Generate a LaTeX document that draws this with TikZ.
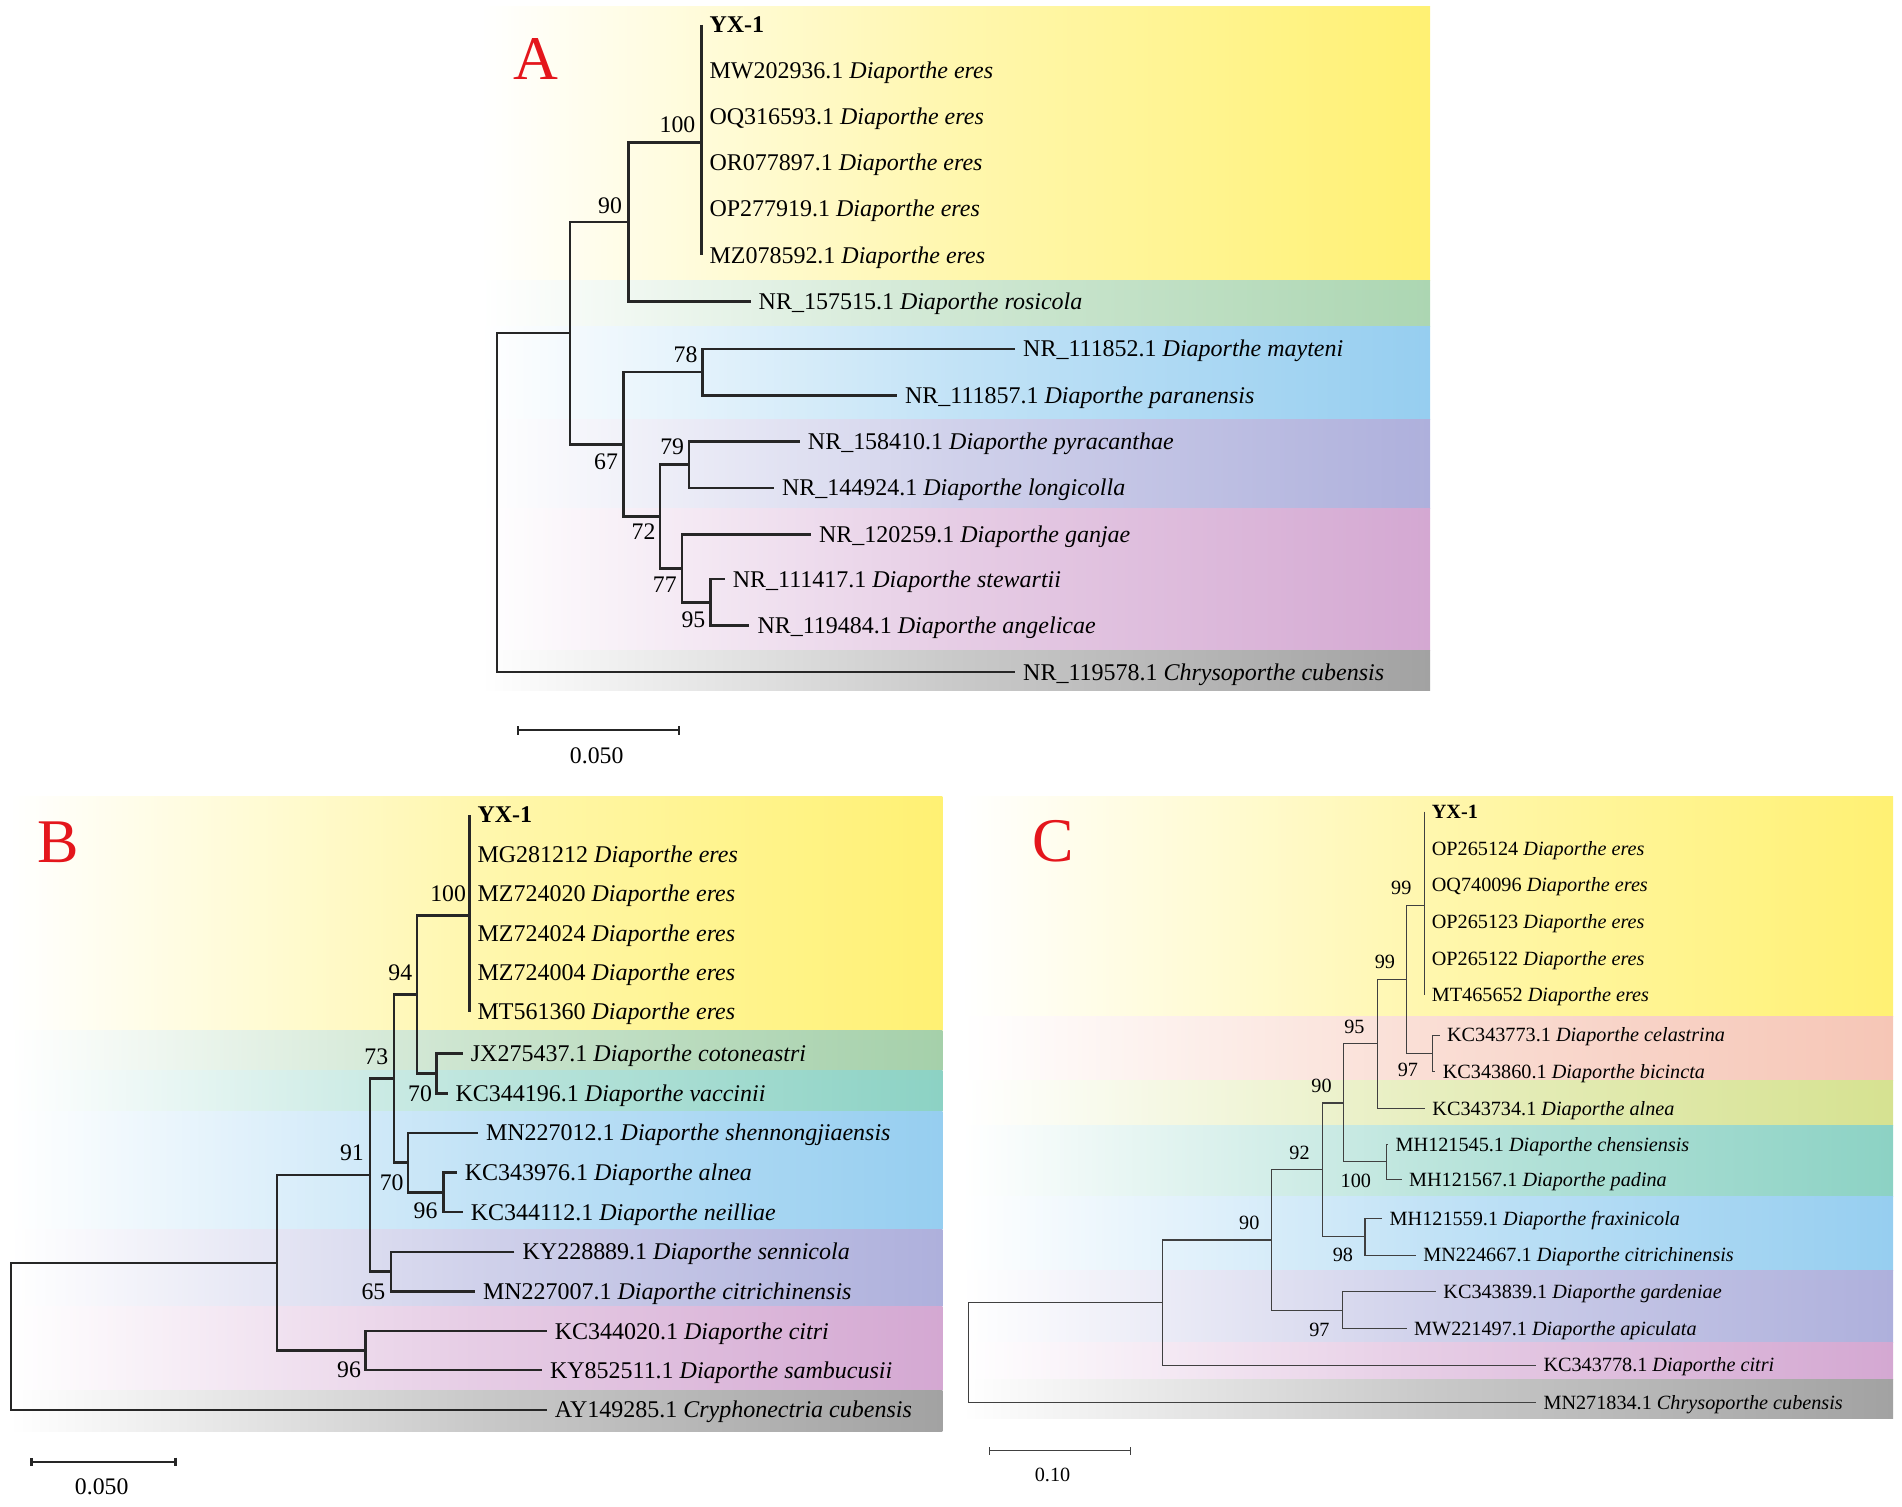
\documentclass[tikz,border=0pt]{standalone}
\usepackage{fontspec}
\setmainfont{Liberation Serif}
\usetikzlibrary{arrows.meta}
\definecolor{yel}{RGB}{255,241,115}
\definecolor{grnA}{RGB}{172,214,178}
\definecolor{bluA}{RGB}{150,206,240}
\definecolor{purA}{RGB}{174,176,220}
\definecolor{pnkA}{RGB}{212,168,210}
\definecolor{gryA}{RGB}{162,162,162}
\definecolor{grnB}{RGB}{165,208,170}
\definecolor{tealB}{RGB}{140,210,196}
\definecolor{peachC}{RGB}{246,198,182}
\definecolor{ygrC}{RGB}{214,226,145}
\definecolor{pred}{RGB}{228,22,28}
\tikzset{
  band/.style={left color=white, right color=#1, middle color=#1!58!white},
  br/.style={line width=2.1pt, draw=black!85},
  brc/.style={line width=0.9pt, draw=black!75},
  tipA/.style={anchor=west, inner xsep=6.5pt, inner ysep=0pt, text height=13pt, text depth=0pt, font=\fontsize{19.7}{20}\selectfont},
  tipC/.style={anchor=west, inner xsep=6pt, inner ysep=0pt, text height=11pt, text depth=0pt, font=\fontsize{16.6}{18}\selectfont},
  bsA/.style={inner sep=0pt, font=\fontsize{19.5}{20}\selectfont},
  bsC/.style={inner sep=0pt, font=\fontsize{16.6}{18}\selectfont},
  plet/.style={text=pred, inner sep=0pt, font=\fontsize{51}{52}\selectfont},
  sbar/.style={line width=1.9pt, draw=black!85, {Bar[width=7pt]}-{Bar[width=7pt]}},
  sbarc/.style={line width=1pt, draw=black!75, {Bar[width=6pt]}-{Bar[width=6pt]}},
}
\newcommand{\taxlab}[2]{#1 \textit{#2}}
\begin{document}
\begin{tikzpicture}[x=1pt,y=-1pt]
\useasboundingbox (0,0) rectangle (1562,1237);
% ---------------- Panel A backgrounds
\shade[band=yel]  (395,5) rectangle (1174.5,230);
\shade[band=grnA] (395,230) rectangle (1174.5,268);
\shade[band=bluA] (395,268) rectangle (1174.5,344.4);
\shade[band=purA] (395,344.4) rectangle (1174.5,417.5);
\shade[band=pnkA] (395,417.5) rectangle (1174.5,534);
\shade[band=gryA] (395,534) rectangle (1174.5,567.4);
% ---------------- Panel B backgrounds
\shade[band=yel]   (8,654.3) rectangle (774,846.6);
\shade[band=grnB]  (8,846.6) rectangle (774,878.9);
\shade[band=tealB] (8,878.9) rectangle (774,912.4);
\shade[band=bluA]  (8,912.4) rectangle (774,1009.6);
\shade[band=purA]  (8,1009.6) rectangle (774,1073.2);
\shade[band=pnkA]  (8,1073.2) rectangle (774,1142.2);
\shade[band=gryA]  (8,1142.2) rectangle (774,1175.9);
% ---------------- Panel C backgrounds
\shade[band=yel]    (790,654.3) rectangle (1554.6,834.6);
\shade[band=peachC] (790,834.6) rectangle (1554.6,887.7);
\shade[band=ygrC]   (790,887.7) rectangle (1554.6,924.1);
\shade[band=tealB]  (790,924.1) rectangle (1554.6,982.2);
\shade[band=bluA]   (790,982.2) rectangle (1554.6,1043.6);
\shade[band=purA]   (790,1043.6) rectangle (1554.6,1102.8);
\shade[band=pnkA]   (790,1102.8) rectangle (1554.6,1132.9);
\shade[band=gryA]   (790,1132.9) rectangle (1554.6,1165);

% ================= Panel A tree
\node[plet] (letA) at (440.4,48.7) {A};
\node[tipA] (ayx) at (576,20.5) {\textbf{YX-1}};
\node[tipA] (amw) at (576,58.2) {\taxlab{MW202936.1}{Diaporthe eres}};
\node[tipA] (aoq) at (576,96) {\taxlab{OQ316593.1}{Diaporthe eres}};
\node[tipA] (aor) at (576,133.8) {\taxlab{OR077897.1}{Diaporthe eres}};
\node[tipA] (aop) at (576,171.6) {\taxlab{OP277919.1}{Diaporthe eres}};
\node[tipA] (amz) at (576,209.5) {\taxlab{MZ078592.1}{Diaporthe eres}};
\node[tipA] (aros) at (616.4,247.6) {\taxlab{NR\_157515.1}{Diaporthe rosicola}};
\node[tipA] (amay) at (833.6,286.6) {\taxlab{NR\_111852.1}{Diaporthe mayteni}};
\node[tipA] (apar) at (736.6,324.6) {\taxlab{NR\_111857.1}{Diaporthe paranensis}};
\node[tipA] (apyr) at (656.8,362.4) {\taxlab{NR\_158410.1}{Diaporthe pyracanthae}};
\node[tipA] (alon) at (635.6,400.6) {\taxlab{NR\_144924.1}{Diaporthe longicolla}};
\node[tipA] (agan) at (666,439.1) {\taxlab{NR\_120259.1}{Diaporthe ganjae}};
\node[tipA] (aste) at (595.2,475.6) {\taxlab{NR\_111417.1}{Diaporthe stewartii}};
\node[tipA] (aang) at (615.4,513.6) {\taxlab{NR\_119484.1}{Diaporthe angelicae}};
\node[tipA] (achr) at (833.6,552) {\taxlab{NR\_119578.1}{Chrysoporthe cubensis}};
\coordinate (a100) at (576,117);
\coordinate (a90) at (516,182.3);
\coordinate (a78) at (577,305.6);
\coordinate (a79) at (566,381.5);
\coordinate (a95) at (583.6,494.6);
\coordinate (a77) at (560,466.8);
\coordinate (a72) at (542,424.2);
\coordinate (a67) at (512,364.9);
\coordinate (aN) at (468,273.6);
\coordinate (aroot) at (408,412.8);
\draw[br] (ayx.west) -- (amz.west);
\draw[br] (a100) -| (a90) |- (aros.west);
\draw[br] (amay.west) -| (a78) |- (apar.west);
\draw[br] (apyr.west) -| (a79) |- (alon.west);
\draw[br] (aste.west) -| (a95) |- (aang.west);
\draw[br] (agan.west) -| (a77) |- (a95);
\draw[br] (a79) -| (a72) |- (a77);
\draw[br] (a78) -| (a67) |- (a72);
\draw[br] (a90) -| (aN) |- (a67);
\draw[br] (aN) -| (aroot) |- (achr.west);
\node[bsA] (ba100) at (556.4,102.7) {100};
\node[bsA] (ba90) at (501,169) {90};
\node[bsA] (ba78) at (563,291.5) {78};
\node[bsA] (ba67) at (497.7,379) {67};
\node[bsA] (ba79) at (552,367) {79};
\node[bsA] (ba72) at (528.5,437) {72};
\node[bsA] (ba77) at (546,480.6) {77};
\node[bsA] (ba95) at (569.5,508.8) {95};
\coordinate (sa1) at (424.5,599.7);
\coordinate (sa2) at (558.8,599.7);
\draw[sbar] (sa1) -- (sa2);
\node[bsA] (sla) at (490,620.3) {0.050};

% ================= Panel B tree
\node[plet] (letB) at (47.5,692) {B};
\node[tipA] (byx) at (385.5,669.3) {\textbf{YX-1}};
\node[tipA] (bmg) at (385.5,701.4) {\taxlab{MG281212}{Diaporthe eres}};
\node[tipA] (bm1) at (385.5,733.7) {\taxlab{MZ724020}{Diaporthe eres}};
\node[tipA] (bm2) at (385.5,766.6) {\taxlab{MZ724024}{Diaporthe eres}};
\node[tipA] (bm3) at (385.5,799) {\taxlab{MZ724004}{Diaporthe eres}};
\node[tipA] (bmt) at (385.5,831) {\taxlab{MT561360}{Diaporthe eres}};
\node[tipA] (bcot) at (380,865.2) {\taxlab{JX275437.1}{Diaporthe cotoneastri}};
\node[tipA] (bvac) at (367.5,898) {\taxlab{KC344196.1}{Diaporthe vaccinii}};
\node[tipA] (bshe) at (392.5,930.4) {\taxlab{MN227012.1}{Diaporthe shennongjiaensis}};
\node[tipA] (baln) at (375,963) {\taxlab{KC343976.1}{Diaporthe alnea}};
\node[tipA] (bnei) at (380,995.4) {\taxlab{KC344112.1}{Diaporthe neilliae}};
\node[tipA] (bsen) at (422.5,1028) {\taxlab{KY228889.1}{Diaporthe sennicola}};
\node[tipA] (bcch) at (390,1060.8) {\taxlab{MN227007.1}{Diaporthe citrichinensis}};
\node[tipA] (bcit) at (449,1093.2) {\taxlab{KC344020.1}{Diaporthe citri}};
\node[tipA] (bsam) at (445,1125.2) {\taxlab{KY852511.1}{Diaporthe sambucusii}};
\node[tipA] (bcry) at (449,1158) {\taxlab{AY149285.1}{Cryphonectria cubensis}};
\coordinate (b100) at (385.5,752);
\coordinate (b70a) at (358.5,881.6);
\coordinate (b94) at (342.5,816.8);
\coordinate (b96a) at (364,979.2);
\coordinate (b70b) at (335,954.8);
\coordinate (b73) at (323.5,885.8);
\coordinate (b65) at (321,1044.4);
\coordinate (b91) at (304,965.1);
\coordinate (b96b) at (300,1109.2);
\coordinate (bN) at (227.5,1037.2);
\coordinate (broot) at (9,1097.6);
\draw[br] (byx.west) -- (bmt.west);
\draw[br] (bcot.west) -| (b70a) |- (bvac.west);
\draw[br] (b100) -| (b94) |- (b70a);
\draw[br] (baln.west) -| (b96a) |- (bnei.west);
\draw[br] (bshe.west) -| (b70b) |- (b96a);
\draw[br] (b94) -| (b73) |- (b70b);
\draw[br] (bsen.west) -| (b65) |- (bcch.west);
\draw[br] (b73) -| (b91) |- (b65);
\draw[br] (bcit.west) -| (b96b) |- (bsam.west);
\draw[br] (b91) -| (bN) |- (b96b);
\draw[br] (bN) -| (broot) |- (bcry.west);
\node[bsA] (bb100) at (368,734) {100};
\node[bsA] (bb94) at (328.7,799) {94};
\node[bsA] (bb73) at (309,868) {73};
\node[bsA] (bb70a) at (345,898) {70};
\node[bsA] (bb91) at (289,946.9) {91};
\node[bsA] (bb70b) at (321.7,971) {70};
\node[bsA] (bb96a) at (349.5,994) {96};
\node[bsA] (bb65) at (306.7,1060.8) {65};
\node[bsA] (bb96b) at (286.7,1125) {96};
\coordinate (sb1) at (25,1200.6);
\coordinate (sb2) at (145,1200.6);
\draw[sbar] (sb1) -- (sb2);
\node[bsA] (slb) at (83.5,1220.6) {0.050};

% ================= Panel C tree
\node[plet] (letC) at (865,691) {C};
\node[tipC] (cyx) at (1169.7,666.6) {\textbf{YX-1}};
\node[tipC] (co1) at (1169.7,696.7) {\taxlab{OP265124}{Diaporthe eres}};
\node[tipC] (co2) at (1169.7,726.9) {\taxlab{OQ740096}{Diaporthe eres}};
\node[tipC] (co3) at (1169.7,757) {\taxlab{OP265123}{Diaporthe eres}};
\node[tipC] (co4) at (1169.7,787.2) {\taxlab{OP265122}{Diaporthe eres}};
\node[tipC] (cmt) at (1169.7,817.3) {\taxlab{MT465652}{Diaporthe eres}};
\node[tipC] (ccel) at (1182.2,850.2) {\taxlab{KC343773.1}{Diaporthe celastrina}};
\node[tipC] (cbic) at (1178.7,880.3) {\taxlab{KC343860.1}{Diaporthe bicincta}};
\node[tipC] (caln) at (1170.2,910.4) {\taxlab{KC343734.1}{Diaporthe alnea}};
\node[tipC] (cche) at (1140,939.8) {\taxlab{MH121545.1}{Diaporthe chensiensis}};
\node[tipC] (cpad) at (1151,968.5) {\taxlab{MH121567.1}{Diaporthe padina}};
\node[tipC] (cfra) at (1135.1,1000.6) {\taxlab{MH121559.1}{Diaporthe fraxinicola}};
\node[tipC] (ccch) at (1162.7,1030.7) {\taxlab{MN224667.1}{Diaporthe citrichinensis}};
\node[tipC] (cgar) at (1179.2,1060.8) {\taxlab{KC343839.1}{Diaporthe gardeniae}};
\node[tipC] (capi) at (1155.2,1091) {\taxlab{MW221497.1}{Diaporthe apiculata}};
\node[tipC] (ccit) at (1261.4,1121.1) {\taxlab{KC343778.1}{Diaporthe citri}};
\node[tipC] (cchr) at (1261.4,1151.8) {\taxlab{MN271834.1}{Chrysoporthe cubensis}};
\coordinate (c99a) at (1169.7,743.3);
\coordinate (c97a) at (1176.2,865.2);
\coordinate (c99b) at (1155.1,804.2);
\coordinate (c95) at (1131.1,857.3);
\coordinate (c100) at (1138.6,954.2);
\coordinate (c90a) at (1103.5,905.8);
\coordinate (c98) at (1121,1015.7);
\coordinate (c92) at (1085.9,960.7);
\coordinate (c97b) at (1102.5,1075.9);
\coordinate (c90b) at (1044.4,1018.3);
\coordinate (cN) at (954.6,1069.7);
\coordinate (croot) at (795.2,1110.8);
\draw[brc] (cyx.west) -- (cmt.west);
\draw[brc] (ccel.west) -| (c97a) |- (cbic.west);
\draw[brc] (c99a) -| (c99b) |- (c97a);
\draw[brc] (c99b) -| (c95) |- (caln.west);
\draw[brc] (cche.west) -| (c100) |- (cpad.west);
\draw[brc] (c95) -| (c90a) |- (c100);
\draw[brc] (cfra.west) -| (c98) |- (ccch.west);
\draw[brc] (c90a) -| (c92) |- (c98);
\draw[brc] (cgar.west) -| (c97b) |- (capi.west);
\draw[brc] (c92) -| (c90b) |- (c97b);
\draw[brc] (c90b) -| (cN) |- (ccit.west);
\draw[brc] (cN) -| (croot) |- (cchr.west);
\node[bsC] (bc99a) at (1150.8,729.1) {99};
\node[bsC] (bc99b) at (1137.4,789.9) {99};
\node[bsC] (bc95) at (1112.3,843.3) {95};
\node[bsC] (bc97a) at (1156.2,878.9) {97};
\node[bsC] (bc90a) at (1085.3,892.1) {90};
\node[bsC] (bc92) at (1067.2,946.9) {92};
\node[bsC] (bc100) at (1113.5,969.9) {100};
\node[bsC] (bc98) at (1102.8,1030.7) {98};
\node[bsC] (bc90b) at (1026,1004.1) {90};
\node[bsC] (bc97b) at (1083.5,1091.8) {97};
\coordinate (sc1) at (811.8,1191.5);
\coordinate (sc2) at (929.1,1191.5);
\draw[sbarc] (sc1) -- (sc2);
\node[bsC] (slc) at (864.4,1211.5) {0.10};
\end{tikzpicture}
\end{document}
